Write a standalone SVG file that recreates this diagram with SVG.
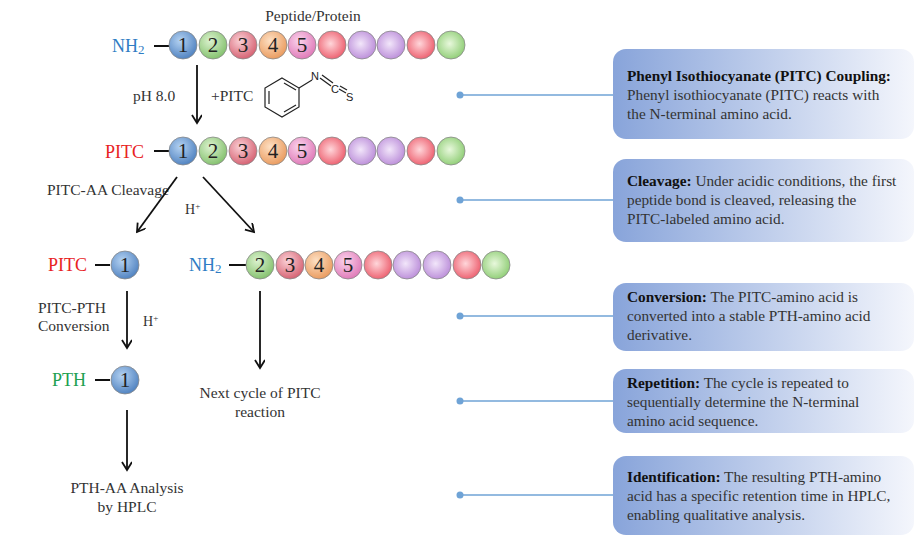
<svg xmlns="http://www.w3.org/2000/svg" width="916" height="536" viewBox="0 0 916 536">
<style>
text{font-family:"Liberation Serif","DejaVu Serif",serif;fill:#333}
.lbl{font-size:15.5px}
.num{font-size:21px;fill:#222;text-anchor:middle}
.bx{font-size:15.3px;fill:#333}
.b{font-weight:bold;fill:#111}
.ar{stroke:#111;stroke-width:1.8;fill:none;marker-end:url(#ah)}
.cn{stroke:#6fa3d6;stroke-width:1.5}
.bond{stroke:#111;stroke-width:2}
</style>
<defs>
<marker id="ah" markerWidth="12" markerHeight="12" refX="9" refY="5" orient="auto" markerUnits="userSpaceOnUse"><path d="M1,0 L9,5 L1,10" fill="none" stroke="#111" stroke-width="1.8"/></marker>
<linearGradient id="box" x1="0" x2="1" y1="0" y2="0"><stop offset="0" stop-color="#88a4da"/><stop offset="1" stop-color="#f4f6fc"/></linearGradient>
<radialGradient id="gB" cx="0.4" cy="0.35" r="0.7"><stop offset="0" stop-color="#b4d2f2"/><stop offset="1" stop-color="#4c7fbe"/></radialGradient>
<radialGradient id="gG" cx="0.4" cy="0.35" r="0.7"><stop offset="0" stop-color="#dcf2cf"/><stop offset="1" stop-color="#80bf6a"/></radialGradient>
<radialGradient id="gR" cx="0.4" cy="0.35" r="0.7"><stop offset="0" stop-color="#fad0d6"/><stop offset="1" stop-color="#d45d6e"/></radialGradient>
<radialGradient id="gO" cx="0.4" cy="0.35" r="0.7"><stop offset="0" stop-color="#fde0c4"/><stop offset="1" stop-color="#e9985a"/></radialGradient>
<radialGradient id="gP" cx="0.4" cy="0.35" r="0.7"><stop offset="0" stop-color="#fbd4ec"/><stop offset="1" stop-color="#de76b6"/></radialGradient>
<radialGradient id="gRR" cx="0.45" cy="0.45" r="0.6"><stop offset="0" stop-color="#ffd6da"/><stop offset="1" stop-color="#ec5a6a"/></radialGradient>
<radialGradient id="gV" cx="0.45" cy="0.45" r="0.6"><stop offset="0" stop-color="#f2e6fa"/><stop offset="1" stop-color="#b98ad8"/></radialGradient>
<radialGradient id="gGG" cx="0.45" cy="0.45" r="0.6"><stop offset="0" stop-color="#e8f8dc"/><stop offset="1" stop-color="#8ccc72"/></radialGradient>
</defs>
<rect width="916" height="536" fill="#fff"/>

<g id="row1">
<text x="313" y="21" class="lbl" text-anchor="middle">Peptide/Protein</text>
<text x="112" y="52" font-size="18" style="fill:#2f7dc4">NH<tspan font-size="13" dy="2">2</tspan></text>
<line x1="154" y1="46" x2="170" y2="46" class="bond"/>
<g stroke="#888" stroke-width="0.8">
<circle cx="183" cy="45" r="14" fill="url(#gB)"/><circle cx="213" cy="45" r="14" fill="url(#gG)"/><circle cx="243" cy="45" r="14" fill="url(#gR)"/><circle cx="273" cy="45" r="14" fill="url(#gO)"/><circle cx="302" cy="45" r="14" fill="url(#gP)"/><circle cx="332" cy="45" r="14" fill="url(#gRR)"/><circle cx="362" cy="45" r="14" fill="url(#gV)"/><circle cx="391" cy="45" r="14" fill="url(#gV)"/><circle cx="421" cy="45" r="14" fill="url(#gRR)"/><circle cx="451" cy="45" r="14" fill="url(#gGG)"/>
</g>
<text x="183" y="52" class="num">1</text><text x="213" y="52" class="num">2</text><text x="243" y="52" class="num">3</text><text x="273" y="52" class="num">4</text><text x="302" y="52" class="num">5</text>
</g>

<g id="reagent">
<text x="133" y="101" class="lbl">pH 8.0</text>
<text x="211" y="101" class="lbl">+PITC</text>
<g stroke="#222" stroke-width="1.2" fill="none">
<polygon points="282,78 299,88 299,107 282,117 265,107 265,88"/>
<line x1="269" y1="91" x2="269" y2="104"/><line x1="284" y1="112" x2="296" y2="105"/><line x1="284" y1="83" x2="296" y2="90"/>
<line x1="299" y1="88" x2="312" y2="80"/>
<line x1="320" y1="78" x2="331" y2="86"/><line x1="322" y1="75" x2="333" y2="83"/>
<line x1="339" y1="89" x2="346" y2="93"/><line x1="340" y1="86" x2="347" y2="90"/>
</g>
<text x="311" y="80" font-size="11" style="font-family:'Liberation Sans',sans-serif;fill:#222">N</text>
<text x="331" y="93" font-size="11" style="font-family:'Liberation Sans',sans-serif;fill:#222">C</text>
<text x="346" y="101" font-size="11" style="font-family:'Liberation Sans',sans-serif;fill:#222">S</text>
</g>

<g id="row2">
<text x="105" y="158" font-size="18" style="fill:#e8231f">PITC</text>
<line x1="154" y1="151" x2="170" y2="151" class="bond"/>
<g stroke="#888" stroke-width="0.8">
<circle cx="183" cy="151" r="14" fill="url(#gB)"/><circle cx="213" cy="151" r="14" fill="url(#gG)"/><circle cx="243" cy="151" r="14" fill="url(#gR)"/><circle cx="273" cy="151" r="14" fill="url(#gO)"/><circle cx="302" cy="151" r="14" fill="url(#gP)"/><circle cx="332" cy="151" r="14" fill="url(#gRR)"/><circle cx="362" cy="151" r="14" fill="url(#gV)"/><circle cx="391" cy="151" r="14" fill="url(#gV)"/><circle cx="421" cy="151" r="14" fill="url(#gRR)"/><circle cx="451" cy="151" r="14" fill="url(#gGG)"/>
</g>
<text x="183" y="158" class="num">1</text><text x="213" y="158" class="num">2</text><text x="243" y="158" class="num">3</text><text x="273" y="158" class="num">4</text><text x="302" y="158" class="num">5</text>
<text x="47" y="195" class="lbl">PITC-AA Cleavage</text>
<text x="185" y="214" font-size="14">H<tspan font-size="9" dy="-5">+</tspan></text>
</g>

<g id="pitc1">
<text x="48" y="271" font-size="18" style="fill:#e8231f">PITC</text>
<line x1="95" y1="265" x2="110" y2="265" class="bond"/>
<circle cx="125" cy="265" r="14" fill="url(#gB)" stroke="#888" stroke-width="0.8"/>
<text x="125" y="272" class="num">1</text>
<text x="38" y="313" class="lbl">PITC-PTH</text>
<text x="38" y="331" class="lbl">Conversion</text>
<text x="143" y="326" font-size="14">H<tspan font-size="9" dy="-5">+</tspan></text>
</g>

<g id="rest">
<text x="189" y="271" font-size="18" style="fill:#2f7dc4">NH<tspan font-size="13" dy="2">2</tspan></text>
<line x1="229" y1="265" x2="246" y2="265" class="bond"/>
<g stroke="#888" stroke-width="0.8">
<circle cx="260" cy="265" r="14" fill="url(#gG)"/><circle cx="290" cy="265" r="14" fill="url(#gR)"/><circle cx="319" cy="265" r="14" fill="url(#gO)"/><circle cx="348" cy="265" r="14" fill="url(#gP)"/><circle cx="378" cy="265" r="14" fill="url(#gRR)"/><circle cx="407" cy="265" r="14" fill="url(#gV)"/><circle cx="437" cy="265" r="14" fill="url(#gV)"/><circle cx="467" cy="265" r="14" fill="url(#gRR)"/><circle cx="496" cy="265" r="14" fill="url(#gGG)"/>
</g>
<text x="260" y="272" class="num">2</text><text x="290" y="272" class="num">3</text><text x="319" y="272" class="num">4</text><text x="348" y="272" class="num">5</text>
</g>

<g id="pth">
<text x="52" y="386" font-size="18" style="fill:#20a050">PTH</text>
<line x1="95" y1="380" x2="110" y2="380" class="bond"/>
<circle cx="125" cy="380" r="14" fill="url(#gB)" stroke="#888" stroke-width="0.8"/>
<text x="125" y="387" class="num">1</text>
</g>

<g id="next">
<text x="260" y="398" class="lbl" text-anchor="middle">Next cycle of PITC</text>
<text x="260" y="417" class="lbl" text-anchor="middle">reaction</text>
</g>

<g id="hplc">
<text x="127" y="493" class="lbl" text-anchor="middle">PTH-AA Analysis</text>
<text x="127" y="512" class="lbl" text-anchor="middle">by HPLC</text>
</g>

<g id="connectors">
<line x1="197" y1="65" x2="197" y2="123" class="ar"/>
<line x1="177" y1="177" x2="137" y2="232" class="ar"/>
<line x1="203" y1="177" x2="254" y2="232" class="ar"/>
<line x1="127" y1="291" x2="127" y2="348" class="ar"/>
<line x1="260" y1="291" x2="260" y2="368" class="ar"/>
<line x1="127" y1="410" x2="127" y2="470" class="ar"/>
<g fill="#6fa3d6">
<circle cx="460" cy="95" r="3.5"/><circle cx="460" cy="200" r="3.5"/><circle cx="460" cy="316" r="3.5"/><circle cx="460" cy="401" r="3.5"/><circle cx="460" cy="495" r="3.5"/>
</g>
<line x1="460" y1="95" x2="613" y2="95" class="cn"/>
<line x1="460" y1="200" x2="613" y2="200" class="cn"/>
<line x1="460" y1="316" x2="613" y2="316" class="cn"/>
<line x1="460" y1="401" x2="613" y2="401" class="cn"/>
<line x1="460" y1="495" x2="613" y2="495" class="cn"/>
</g>

<g id="box1">
<rect x="613" y="49" width="301" height="90" rx="13" fill="url(#box)"/>
<text x="627" y="81" class="bx"><tspan class="b">Phenyl Isothiocyanate (PITC) Coupling:</tspan></text>
<text x="627" y="100" class="bx">Phenyl isothiocyanate (PITC) reacts with</text>
<text x="627" y="119" class="bx">the N-terminal amino acid.</text>
</g>
<g id="box2">
<rect x="613" y="159" width="301" height="83" rx="13" fill="url(#box)"/>
<text x="627" y="186" class="bx"><tspan class="b">Cleavage:</tspan> Under acidic conditions, the first</text>
<text x="627" y="205" class="bx">peptide bond is cleaved, releasing the</text>
<text x="627" y="224" class="bx">PITC-labeled amino acid.</text>
</g>
<g id="box3">
<rect x="613" y="283" width="301" height="68" rx="13" fill="url(#box)"/>
<text x="627" y="302" class="bx"><tspan class="b">Conversion:</tspan> The PITC-amino acid is</text>
<text x="627" y="321" class="bx">converted into a stable PTH-amino acid</text>
<text x="627" y="340" class="bx">derivative.</text>
</g>
<g id="box4">
<rect x="613" y="369" width="301" height="64" rx="13" fill="url(#box)"/>
<text x="627" y="388" class="bx"><tspan class="b">Repetition:</tspan> The cycle is repeated to</text>
<text x="627" y="407" class="bx">sequentially determine the N-terminal</text>
<text x="627" y="426" class="bx">amino acid sequence.</text>
</g>
<g id="box5">
<rect x="613" y="456" width="301" height="79" rx="13" fill="url(#box)"/>
<text x="627" y="482" class="bx"><tspan class="b">Identification:</tspan> The resulting PTH-amino</text>
<text x="627" y="501" class="bx">acid has a specific retention time in HPLC,</text>
<text x="627" y="520" class="bx">enabling qualitative analysis.</text>
</g>
</svg>
